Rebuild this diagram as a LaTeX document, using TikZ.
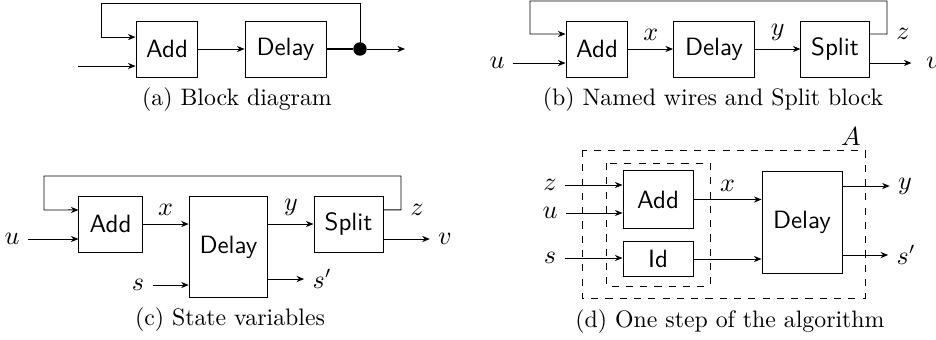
\documentclass[tikz,border=0pt]{standalone}
\usetikzlibrary{arrows.meta}
\tikzset{
  blk/.style={draw,font=\fontsize{10.5}{12.6}\selectfont\sffamily,minimum height=23.5pt,inner sep=1pt},
  lbl/.style={font=\fontsize{10.5}{12.6}\selectfont},
  >={Stealth[length=3.2pt,width=2.6pt]}
}
\begin{document}
\begin{tikzpicture}[x=0.42pt,y=-0.42pt]
      \useasboundingbox (0,0) rectangle (936,339);
      % (a)
      \node[blk,minimum width=26pt](Add1) at(167,49){Add};
      \node[blk,minimum width=34pt](Delay1) at(285.5,49){Delay};
      \node[circle,fill,inner sep=2pt](dot1) at(360,49){};
      \coordinate(in1) at(78,66);
      \coordinate(out1) at(405,49);
      \draw[->](in1)--(Add1.west |- in1);
      \draw[->](Add1)--(Delay1);
      \draw[thick](Delay1)--(dot1);
      \draw[->](dot1)--(out1);
      \draw[->](dot1.center)|-(101,3)|-([yshift=5pt]Add1.west);
      \node(capa) at(237,100){(a) Block diagram};
      % (b)
      \node[blk,minimum width=26pt](Add2) at(597,49){Add};
      \node[blk,minimum width=34pt](Delay2) at(714,49){Delay};
      \node[blk,minimum width=28.6pt](Split2) at(835,49){Split};
      \node[lbl](u2) at(497,63){$u$};
      \node[lbl,inner sep=1pt](v2) at(933,63){$v$};
      \node[lbl](z2) at(903,34){$z$};
      \draw[->](u2)--(Add2.west |- u2);
      \draw[->](Split2.east |- v2)--([xshift=-5pt]v2.west);
      \foreach \x/\y/\t in {Add2/Delay2/$x$, Delay2/Split2/$y$}{
        \draw[->](\x)--node[lbl,above]{\t}(\y);
      }
      \draw[->]([yshift=6.3pt]Split2.east)-|(887,1)-|(530,34)--([yshift=6.3pt]Add2.west);
      \node(capb) at(713,100){(b) Named wires and Split block};
      % (c)
      \node[blk,minimum width=26.5pt](Add3) at(110.5,224){Add};
      \node[blk,minimum width=33pt,minimum height=42.8pt](Delay3) at(228.5,247){Delay};
      \node[blk,minimum width=29pt](Split3) at(348.5,224){Split};
      \node[lbl](u3) at(12,239){$u$};
      \node[lbl](v3) at(445,239){$v$};
      \node[lbl](z3) at(417,210){$z$};
      \node[lbl](s3) at(138,285){$s$};
      \node[lbl](sp3) at(322,279){$s'$};
      \draw[->](u3)--(Add3.west |- u3);
      \draw[->](Split3.east |- v3)--(v3);
      \draw[->](s3)--(s3 -| Delay3.west);
      \draw[->](sp3 -| Delay3.east)--(sp3);
      \draw[->](Add3)--node[lbl,above]{$x$}(Add3 -| Delay3.west);
      \draw[->](Split3 -| Delay3.east)--node[lbl,above]{$y$}(Split3);
      \draw[->]([yshift=5.9pt]Split3.east)-|(401,176)-|(44,210)--([yshift=5.9pt]Add3.west);
      \node(capc) at(230,320){(c) State variables};
      % (d)
      \draw[dashed](582,150) rectangle (865,298);
      \draw[dashed](606,163) rectangle (710,286);
      \node[lbl](labA) at(851,137){$A$};
      \node[blk,minimum width=29.4pt,minimum height=24pt](Add4) at(658,199.5){Add};
      \node[blk,minimum width=29.4pt,minimum height=15pt](Id4) at(658,259){Id};
      \node[blk,minimum width=33.6pt,minimum height=43pt](Delay4) at(802,222.5){Delay};
      \node[lbl](z4) at(550,185){$z$};
      \node[lbl](u4) at(550,213){$u$};
      \node[lbl](s4) at(550,258){$s$};
      \node[lbl](y4) at(905,186){$y$};
      \node[lbl](sp4) at(906,255){$s'$};
      \foreach \x in {z4,u4}{
        \draw[->](\x)--(\x -| Add4.west);
      }
      \draw[->](s4)--(s4 -| Id4.west);
      \draw[->](Add4)--node[lbl,above]{$x$}(Add4 -| Delay4.west);
      \draw[->](Id4)--(Id4 -| Delay4.west);
      \foreach \x in {y4,sp4}{
        \draw[->](\x -| Delay4.east)--(\x);
      }
      \node(capd) at(730,322){(d) One step of the algorithm};
    \end{tikzpicture}
\end{document}
